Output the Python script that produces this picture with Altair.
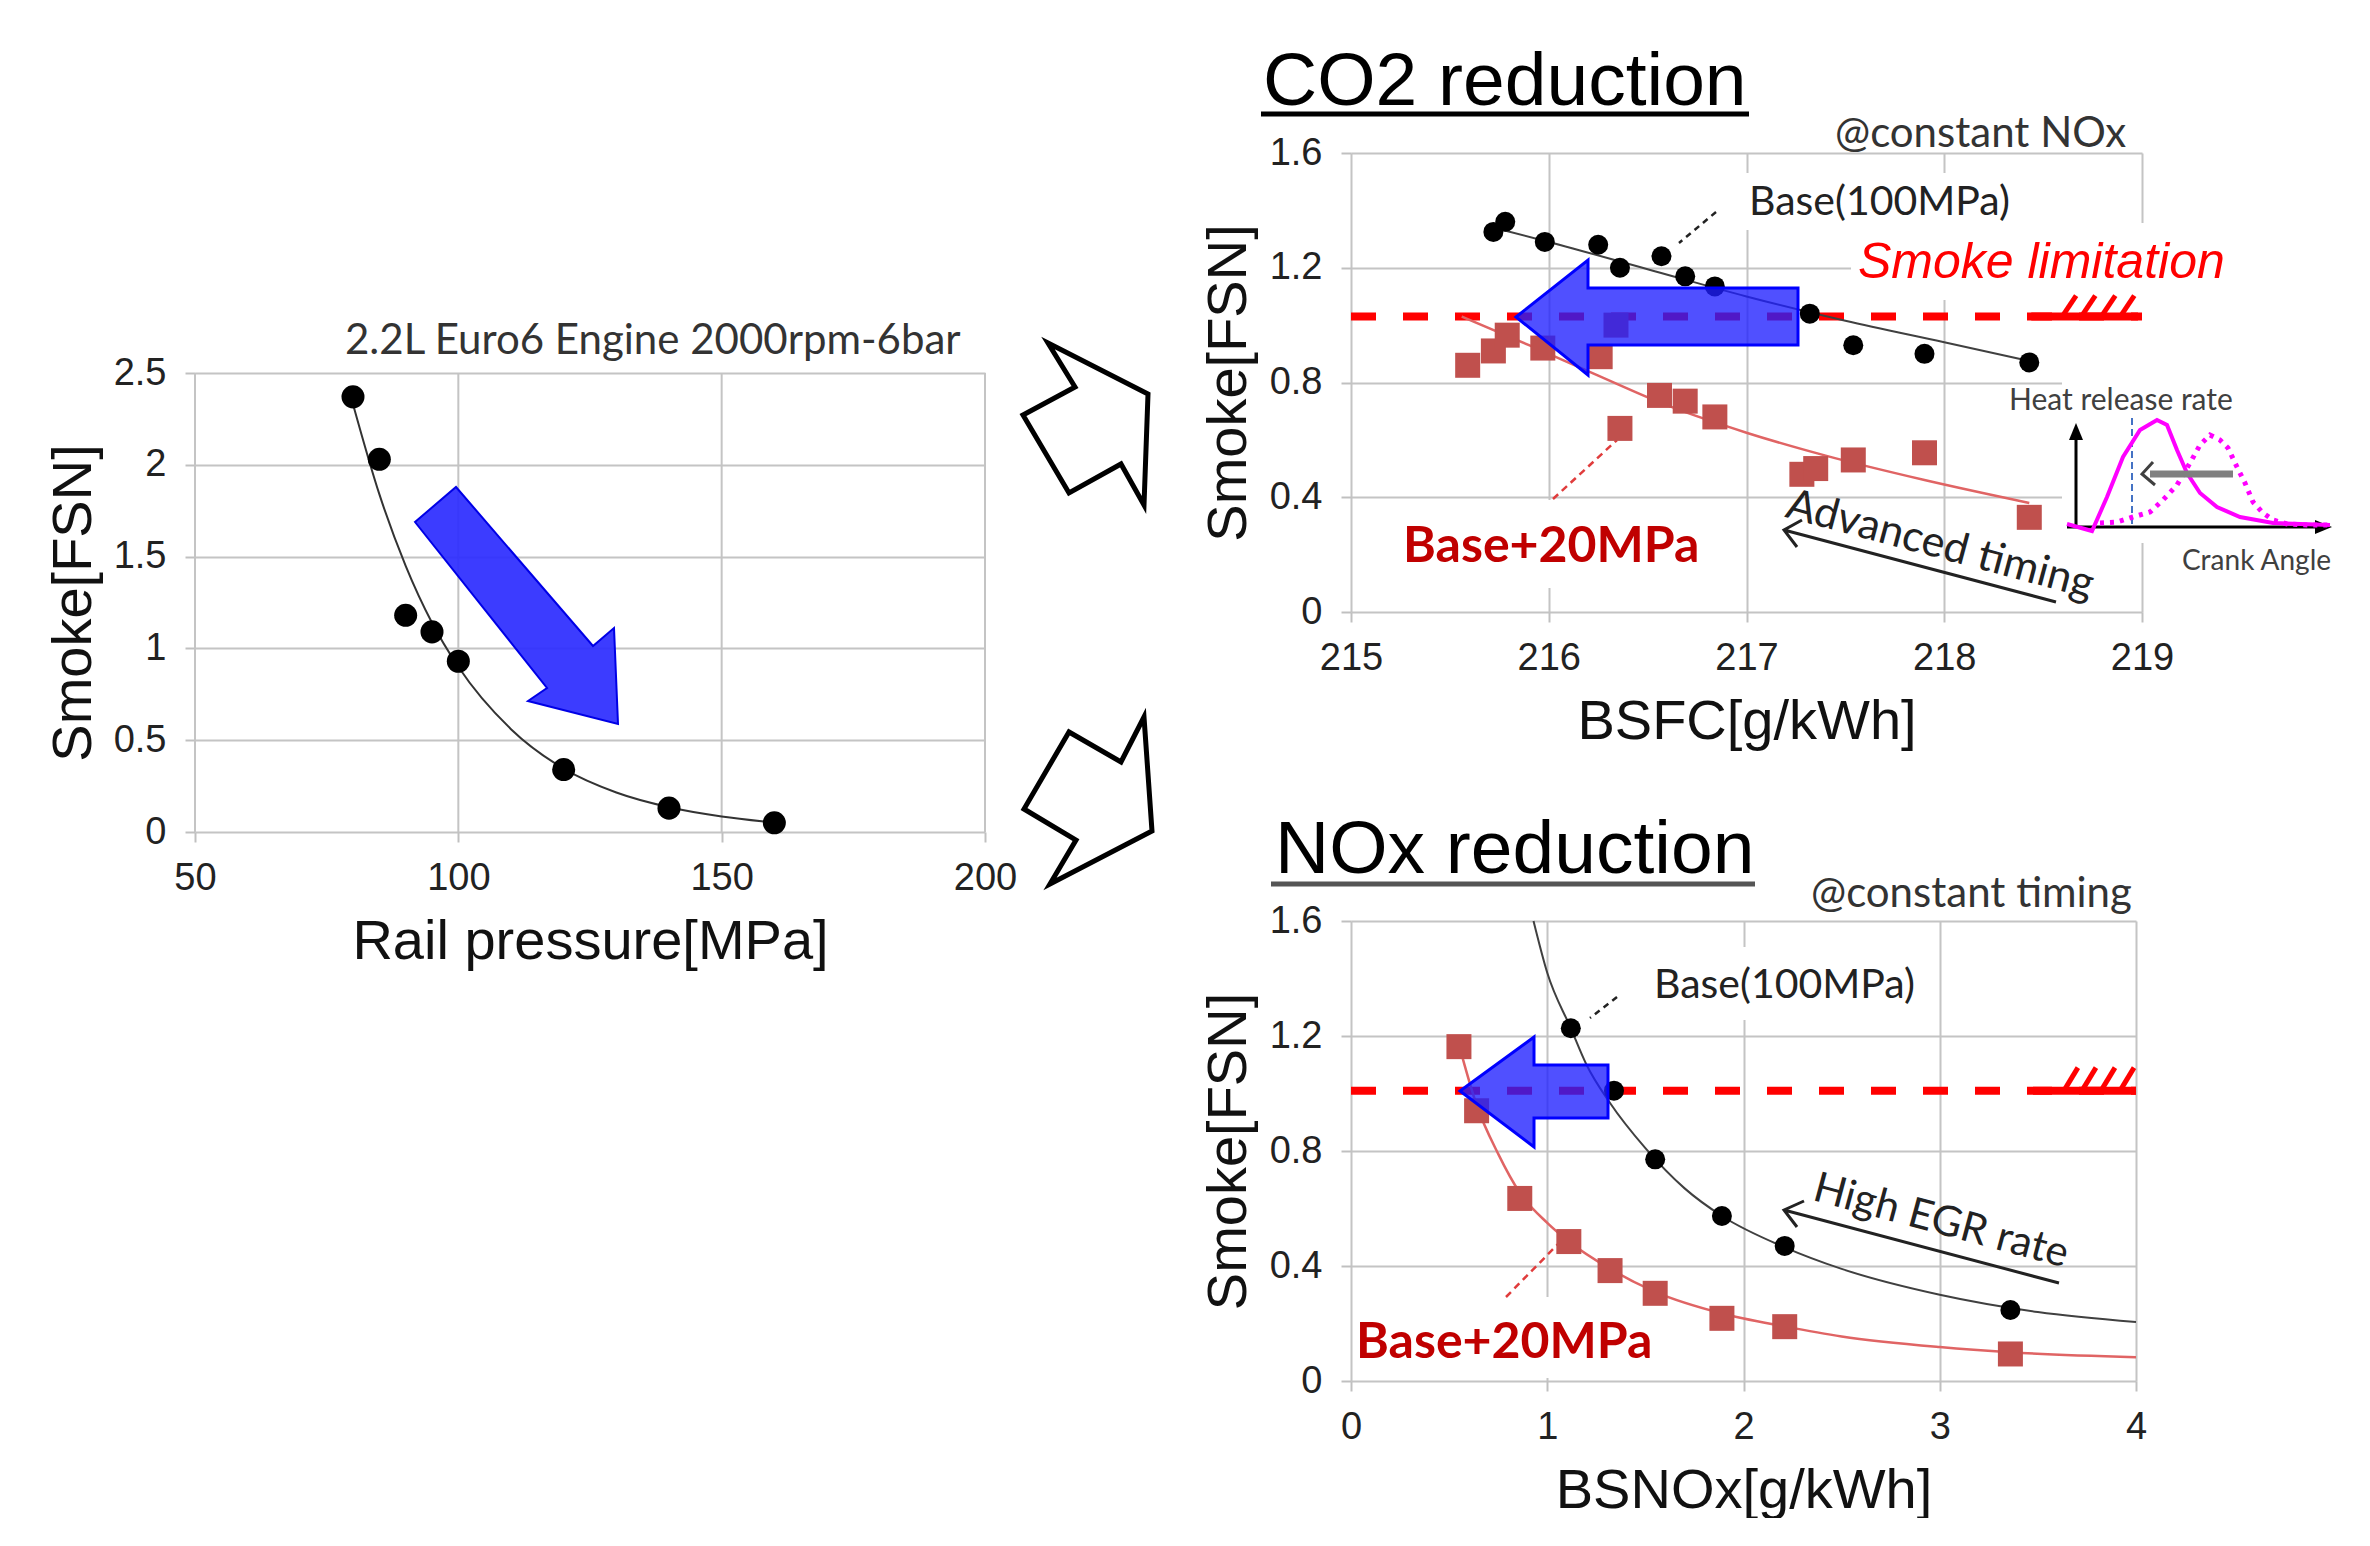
import altair as alt
import pandas as pd

# ---------------- values ----------------
# Left panel: rail-pressure sweep
rail_pressure = [80, 85, 90, 95, 100, 120, 140, 160]
rail_smoke = [2.37, 2.03, 1.18, 1.09, 0.93, 0.34, 0.13, 0.05]
rail_fit_x = [80, 85, 90, 95, 100, 110, 120, 130, 140, 150, 160]
rail_fit_y = [2.33, 1.84, 1.45, 1.14, 0.90, 0.56, 0.345, 0.215, 0.135, 0.085, 0.052]

# CO2 reduction panel (BSFC vs smoke)
bsfc_base = [215.72, 215.78, 215.98, 216.25, 216.36, 216.57, 216.69, 216.84, 217.32, 217.54, 217.90, 218.43]
bsfc_base_smoke = [1.325, 1.36, 1.29, 1.28, 1.20, 1.24, 1.17, 1.135, 1.04, 0.93, 0.90, 0.87]
bsfc_p20 = [215.59, 215.72, 215.79, 215.97, 216.26, 216.34, 216.36, 216.56, 216.69, 216.84,
            217.28, 217.35, 217.54, 217.90, 218.43]
bsfc_p20_smoke = [0.86, 0.91, 0.965, 0.92, 0.89, 1.0, 0.64, 0.755, 0.735, 0.68,
                  0.48, 0.50, 0.53, 0.555, 0.33]
bsfc_base_fit_x = [215.72, 216.0, 216.5, 217.0, 217.5, 218.0, 218.43]
bsfc_base_fit_y = [1.34, 1.29, 1.195, 1.10, 1.015, 0.94, 0.875]
bsfc_p20_fit_x = [215.56, 215.9, 216.23, 216.6, 217.0, 217.4, 217.9, 218.43]
bsfc_p20_fit_y = [1.03, 0.93, 0.83, 0.72, 0.625, 0.545, 0.46, 0.38]

# NOx reduction panel (BSNOx vs smoke)
nox_base = [1.12, 1.34, 1.55, 1.89, 2.21, 3.36]
nox_base_smoke = [1.227, 1.01, 0.771, 0.574, 0.47, 0.247]
nox_p20 = [0.55, 0.64, 0.86, 1.11, 1.32, 1.55, 1.89, 2.21, 3.36]
nox_p20_smoke = [1.163, 0.94, 0.635, 0.485, 0.384, 0.305, 0.218, 0.189, 0.094]
nox_base_fit_x = [0.93, 1.0, 1.12, 1.2, 1.32, 1.5, 1.7, 1.89, 2.21, 2.5, 3.0, 3.5, 4.0]
nox_base_fit_y = [1.6, 1.42, 1.227, 1.10, 0.967, 0.81, 0.67, 0.574, 0.465, 0.39, 0.30, 0.24, 0.205]
nox_p20_fit_x = [0.55, 0.64, 0.75, 0.86, 1.0, 1.11, 1.32, 1.55, 1.89, 2.21, 2.5, 3.0, 3.36, 4.0]
nox_p20_fit_y = [1.17, 0.96, 0.79, 0.655, 0.55, 0.485, 0.39, 0.31, 0.235, 0.19, 0.155, 0.118, 0.10, 0.083]

smoke_limit_co2 = 1.03
smoke_limit_nox = 1.01
limit_solid_co2 = [218.44, 218.98]
limit_solid_nox = [3.475, 4.0]
hatch_co2_x0 = [218.596, 218.693, 218.794, 218.89]
hatch_co2_x1 = [218.667, 218.764, 218.865, 218.961]
hatch_co2_top = 1.103
hatch_nox_x0 = [3.633, 3.725, 3.822, 3.919]
hatch_nox_x1 = [3.704, 3.796, 3.893, 3.99]
hatch_nox_top = 1.09

# axis ticks
left_x_ticks = [50, 100, 150, 200]
left_y_ticks = [0, 0.5, 1, 1.5, 2, 2.5]
bsfc_ticks = [215, 216, 217, 218, 219]
nox_ticks = [0, 1, 2, 3, 4]
smoke_ticks = [0, 0.4, 0.8, 1.2, 1.6]

# ---------------- layout / style ----------------
LEFT_W, LEFT_PLOT_H, LEFT_H = 790, 459, 679
TR_W, TR_H = 791, 459
BR_W, BR_H = 785, 460
GRID = "#c4c4c4"
ARIAL = "Liberation Sans"
CALIBRI = "Lato"
DUMMY = pd.DataFrame({"k": [0]})

AX = dict(domain=False, tickColor="#c0c0c0", tickWidth=2, tickSize=10,
          gridColor=GRID, gridWidth=2, labelFlush=False,
          labelFont=ARIAL, labelFontSize=38, labelColor="#222222",
          titleFont=ARIAL, titleFontSize=56, titleFontWeight="normal",
          titleColor="#111111")


def P(pts, close=False):
    s = "M" + " L".join(f"{x},{y}" for x, y in pts)
    return s + (" Z" if close else "")


def shape(path, fill=None, stroke=None, sw=2, dash=None, fop=1.0, cap="butt"):
    kw = dict(shape=path, size=4, x=0, y=0, strokeJoin="miter", strokeCap=cap)
    if fill is not None:
        kw.update(filled=True, fill=fill, fillOpacity=fop)
    else:
        kw.update(filled=False, fill="transparent", fillOpacity=0)
    if stroke is not None:
        kw.update(stroke=stroke, strokeWidth=sw)
    else:
        kw.update(strokeWidth=0)
    if dash:
        kw["strokeDash"] = dash
    return alt.Chart(DUMMY).mark_point(**kw).encode(opacity=alt.value(1))


def label(s, x, y, size, font=CALIBRI, color="#222222", align="left",
          baseline="alphabetic", weight="normal", style="normal", angle=0):
    return alt.Chart(DUMMY).mark_text(
        x=x, y=y, fontSize=size, font=font, color=color, align=align,
        baseline=baseline, fontWeight=weight, fontStyle=style, angle=angle
    ).encode(text=alt.value(s))


def xenc(dom, vals, title, grid=True):
    return alt.X("x:Q", scale=alt.Scale(domain=dom, nice=False, zero=False),
                 axis=alt.Axis(values=vals, grid=grid, format="d", labelPadding=17,
                               titleY=126, titleBaseline="alphabetic", **AX),
                 title=title)


def yenc(dom, vals, title, tx, ty):
    return alt.Y("y:Q", scale=alt.Scale(domain=dom, nice=False, zero=False),
                 axis=alt.Axis(values=vals, grid=True, format=".1~f", labelPadding=19,
                               titleX=tx, titleY=ty, titleBaseline="alphabetic", **AX),
                 title=title)


def xy(xs, ys):
    return pd.DataFrame({"x": xs, "y": ys})


BLUE_FILL = "#1f1fff"
BLUE_EDGE = "#0000ff"
RED_PT = "#c0504d"
RED_FIT = "#e06464"
DARK_RED = "#c00000"

# ---------------- left panel ----------------
left_top = 2.5 * LEFT_H / LEFT_PLOT_H
LX = xenc([50, 200], left_x_ticks, "Rail pressure[MPa]", grid=False)
LY = yenc([0, left_top], left_y_ticks, "Smoke[FSN]", -105,
          (LEFT_H - LEFT_PLOT_H) + LEFT_PLOT_H / 2)

left_vgrid = alt.Chart(pd.DataFrame({"x": left_x_ticks, "y": [0] * 4, "y2": [2.5] * 4})).mark_rule(
    color=GRID, strokeWidth=2).encode(x=LX, y=LY, y2="y2:Q")
left_fit = alt.Chart(xy(rail_fit_x, rail_fit_y)).mark_line(
    color="#333333", strokeWidth=2, interpolate="monotone").encode(x=LX, y=LY)
left_pts = alt.Chart(xy(rail_pressure, rail_smoke)).mark_point(
    filled=True, shape="circle", size=530, color="black", opacity=1).encode(x=LX, y=LY)

left_arrow = shape(P([(220, 369), (261, 334), (398, 493), (419, 475), (423, 571),
                      (333, 548), (352, 535)], True),
                   fill="#2b2bff", stroke="#0000e6", sw=2, fop=0.92)
outline_up = shape(P([(853, 190), (953, 241), (949, 352), (926, 311), (874, 340),
                      (828, 262), (880, 234)], True), fill="white", stroke="black", sw=5)
outline_dn = shape(P([(949, 564), (957, 678), (855, 731), (881, 687), (829, 656),
                      (874, 579), (926, 609)], True), fill="white", stroke="black", sw=5)
left_title = label("2.2L Euro6 Engine 2000rpm-6bar", 150, 201, 42, color="#333333")
anchor = alt.Chart(DUMMY).mark_rect(x=-187, x2=-186, y=-145, y2=-144, color="white").encode(
    opacity=alt.value(1))

left = alt.layer(left_vgrid, left_fit, left_pts, left_arrow, outline_up, outline_dn,
                 left_title, anchor).properties(width=LEFT_W, height=LEFT_H)

# ---------------- CO2 reduction panel ----------------
TX = xenc([215, 219], bsfc_ticks, "BSFC[g/kWh]")
TY = yenc([0, 1.6], smoke_ticks, "Smoke[FSN]", -106, TR_H / 2)


def box(x0, y0, x1, y1):
    return shape(P([(x0, y0), (x1, y0), (x1, y1), (x0, y1)], True), fill="white")


tr_layers = [
    box(389, 20, 674, 77), box(500, 70, 899, 147), box(711, 147, 989, 390),
    box(44, 347, 361, 435),
    alt.Chart(pd.DataFrame({"x": [215], "x2": [219], "y": [smoke_limit_co2]})).mark_rule(
        color="#ff0000", strokeWidth=8, strokeDash=[25, 27]).encode(x=TX, x2="x2:Q", y=TY),
    alt.Chart(pd.DataFrame({"x": [limit_solid_co2[0]], "x2": [limit_solid_co2[1]],
                            "y": [smoke_limit_co2]})).mark_rule(
        color="#ff0000", strokeWidth=8).encode(x=TX, x2="x2:Q", y=TY),
    alt.Chart(pd.DataFrame({"x": hatch_co2_x0, "x2": hatch_co2_x1,
                            "y": [smoke_limit_co2] * 4, "y2": [hatch_co2_top] * 4})).mark_rule(
        color="#ff0000", strokeWidth=5).encode(x=TX, x2="x2:Q", y=TY, y2="y2:Q"),
    alt.Chart(xy(bsfc_base_fit_x, bsfc_base_fit_y)).mark_line(
        color="#404040", strokeWidth=2, interpolate="monotone").encode(x=TX, y=TY),
    alt.Chart(xy(bsfc_p20_fit_x, bsfc_p20_fit_y)).mark_line(
        color=RED_FIT, strokeWidth=2.5, interpolate="monotone").encode(x=TX, y=TY),
    shape(P([(365, 59), (328, 90)]), stroke="#222222", sw=2.5, dash=[6, 5]),
    shape(P([(202, 346), (266, 287)]), stroke="#e03c3c", sw=2.5, dash=[7, 5]),
    alt.Chart(xy(bsfc_p20, bsfc_p20_smoke)).mark_point(
        filled=True, shape="square", size=625, color=RED_PT, opacity=1).encode(x=TX, y=TY),
    alt.Chart(xy(bsfc_base, bsfc_base_smoke)).mark_point(
        filled=True, shape="circle", size=400, color="black", opacity=1).encode(x=TX, y=TY),
    shape(P([(165, 164), (237, 107), (237, 135), (447, 135), (447, 192), (237, 192),
             (237, 222)], True), fill=BLUE_FILL, stroke=BLUE_EDGE, sw=3, fop=0.78),
    label("CO2 reduction", -88, -48, 75, font=ARIAL, color="#000000"),
    shape(P([(-90, -39), (398, -39)]), stroke="#000000", sw=5),
    label("@constant NOx", 484, -6, 42, color="#333333"),
    label("Base(100MPa)", 398, 62, 41),
    label("Smoke limitation", 507, 125, 50, font=ARIAL, color="#ff0000", style="italic"),
    label("Base+20MPa", 52, 409, 50, color=DARK_RED, weight="bold"),
    label("Advanced timing", 589, 392, 43, align="center", baseline="middle", angle=15),
    shape(P([(705, 449), (433, 377)]) + " " + P([(451, 367), (433, 377), (446, 394)]),
          stroke="#222222", sw=3),
    # inset: heat release rate sketch
    label("Heat release rate", 658, 257, 30, color="#404040"),
    shape(P([(725, 372), (725, 285)]) + " " + P([(716, 374), (966, 374)]),
          stroke="#000000", sw=3),
    shape(P([(725, 270), (718, 287), (732, 287)], True), fill="#000000"),
    shape(P([(981, 374), (964, 367), (964, 381)], True), fill="#000000"),
    shape(P([(781, 265), (781, 374)]), stroke="#4472c4", sw=2, dash=[7, 4]),
    shape(P([(749, 370), (766, 369), (782, 364), (799, 359), (812, 347), (826, 332),
             (839, 310), (849, 292), (859, 282), (869, 287), (877, 295), (886, 314),
             (894, 330), (902, 349), (912, 360), (922, 367), (936, 371), (956, 372),
             (979, 372)]), stroke="#ff00ff", sw=5, dash=[4, 6]),
    shape(P([(716, 371), (741, 378), (756, 344), (772, 304), (789, 277), (806, 267),
             (816, 272), (826, 297), (836, 320), (849, 340), (866, 354), (889, 364),
             (922, 370), (979, 372)]), stroke="#ff00ff", sw=4),
    shape(P([(882, 321), (799, 321)]), stroke="#808080", sw=7),
    shape(P([(802, 309), (791, 321), (804, 332)]), stroke="#404040", sw=3),
    label("Crank Angle", 831, 417, 28, color="#404040"),
]
tr = alt.layer(*tr_layers).properties(width=TR_W, height=TR_H)

# ---------------- NOx reduction panel ----------------
BX = xenc([0, 4], nox_ticks, "BSNOx[g/kWh]")
BY = yenc([0, 1.6], smoke_ticks, "Smoke[FSN]", -106, BR_H / 2)

br_layers = [
    box(289, 26, 584, 99), box(3, 376, 309, 457),
    alt.Chart(pd.DataFrame({"x": [0], "x2": [4], "y": [smoke_limit_nox]})).mark_rule(
        color="#ff0000", strokeWidth=8, strokeDash=[25, 27]).encode(x=BX, x2="x2:Q", y=BY),
    alt.Chart(pd.DataFrame({"x": [limit_solid_nox[0]], "x2": [limit_solid_nox[1]],
                            "y": [smoke_limit_nox]})).mark_rule(
        color="#ff0000", strokeWidth=8).encode(x=BX, x2="x2:Q", y=BY),
    alt.Chart(pd.DataFrame({"x": hatch_nox_x0, "x2": hatch_nox_x1,
                            "y": [smoke_limit_nox] * 4, "y2": [hatch_nox_top] * 4})).mark_rule(
        color="#ff0000", strokeWidth=5).encode(x=BX, x2="x2:Q", y=BY, y2="y2:Q"),
    alt.Chart(xy(nox_base_fit_x, nox_base_fit_y)).mark_line(
        color="#404040", strokeWidth=2, interpolate="monotone").encode(x=BX, y=BY),
    alt.Chart(xy(nox_p20_fit_x, nox_p20_fit_y)).mark_line(
        color=RED_FIT, strokeWidth=2.5, interpolate="monotone").encode(x=BX, y=BY),
    shape(P([(266, 76), (239, 97)]), stroke="#222222", sw=2.5, dash=[6, 5]),
    shape(P([(155, 376), (211, 319)]), stroke="#e03c3c", sw=2.5, dash=[7, 5]),
    alt.Chart(xy(nox_p20, nox_p20_smoke)).mark_point(
        filled=True, shape="square", size=625, color=RED_PT, opacity=1).encode(x=BX, y=BY),
    alt.Chart(xy(nox_base, nox_base_smoke)).mark_point(
        filled=True, shape="circle", size=400, color="black", opacity=1).encode(x=BX, y=BY),
    shape(P([(109, 170), (183, 116), (183, 144), (257, 144), (257, 197), (183, 197),
             (183, 226)], True), fill=BLUE_FILL, stroke=BLUE_EDGE, sw=3, fop=0.78),
    label("NOx reduction", -76, -48, 75, font=ARIAL, color="#000000"),
    shape(P([(-80, -37), (404, -37)]), stroke="#555555", sw=5),
    label("@constant timing", 460, -14, 42, color="#333333"),
    label("Base(100MPa)", 303, 77, 41),
    label("Base+20MPa", 5, 437, 50, color=DARK_RED, weight="bold"),
    label("High EGR rate", 590, 300, 42, align="center", baseline="middle", angle=15),
    shape(P([(708, 362), (433, 289)]) + " " + P([(453, 280), (433, 289), (446, 306)]),
          stroke="#222222", sw=3),
]
br = alt.layer(*br_layers).properties(width=BR_W, height=BR_H)

spacer = alt.Chart(DUMMY).mark_point(x=0, y=0, opacity=0).encode(
    size=alt.value(1)).properties(width=10, height=10)

chart = alt.concat(
    left, tr, spacer, br, columns=2,
    spacing={"row": 89, "column": 366}, bounds="flush", align="each"
).properties(padding=0, background="white").configure_view(stroke=None)

chart.save("out.html", embed_options={"renderer": "svg", "actions": False})
